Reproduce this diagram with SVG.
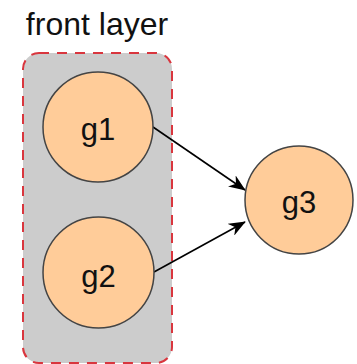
<svg xmlns="http://www.w3.org/2000/svg" width="357" height="364" viewBox="0 0 357 364">
  <style>
    .layer { fill: #cccccc; stroke: #d9363e; stroke-width: 2; stroke-dasharray: 10 8; }
    .node circle { fill: #ffcc99; stroke: #444444; stroke-width: 1.5; }
    .label { font-family: "Liberation Sans", Arial, sans-serif; font-size: 31px; fill: #111111; text-anchor: middle; }
    .title { font-size: 32px; }
    .edge { stroke: #000000; stroke-width: 1.6; fill: none; marker-end: url(#arrow); }
  </style>
  <defs>
    <marker id="arrow" viewBox="0 0 10 8" refX="9.5" refY="4" markerWidth="10.5" markerHeight="8.4" markerUnits="strokeWidth" orient="auto">
      <path d="M0,0 L10,4 L0,8 L3,4 Z" fill="#000000"/>
    </marker>
  </defs>

  <g id="front-layer">
    <rect class="layer" x="23" y="53" width="149" height="310" rx="16" ry="16"/>
    <text class="label title" x="97" y="35">front layer</text>
  </g>

  <g id="connectors">
    <line class="edge" x1="153" y1="127" x2="245" y2="190"/>
    <line class="edge" x1="154" y1="272" x2="245" y2="222"/>
  </g>

  <g id="g1" class="node">
    <circle cx="98" cy="127" r="55"/>
    <text class="label" x="98" y="140">g1</text>
  </g>
  <g id="g2" class="node">
    <circle cx="98.5" cy="272.5" r="55.5"/>
    <text class="label" x="98.5" y="287">g2</text>
  </g>
  <g id="g3" class="node">
    <circle cx="299" cy="200" r="54"/>
    <text class="label" x="299" y="213">g3</text>
  </g>
</svg>
